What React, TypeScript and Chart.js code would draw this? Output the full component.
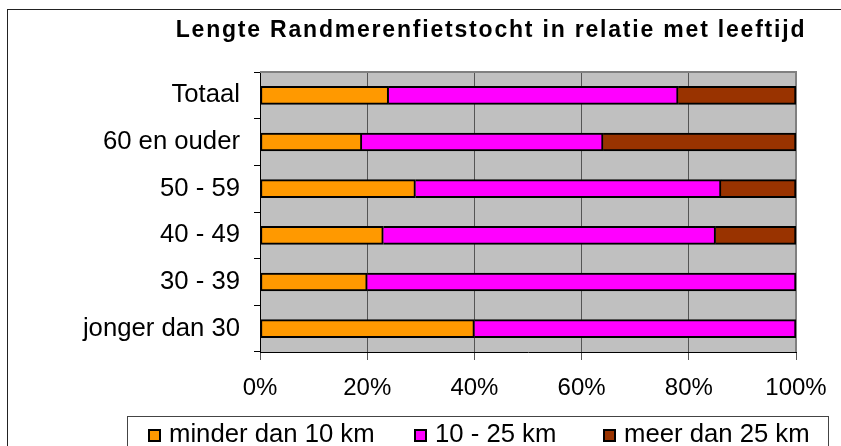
import React, { useEffect, useRef } from "react";
import { Chart, registerables } from "chart.js";

Chart.register(...registerables);

const categories = ["Totaal", "60 en ouder", "50 - 59", "40 - 49", "30 - 39", "jonger dan 30"];
const seriesNames = ["minder dan 10 km", "10 - 25 km", "meer dan 25 km"];
const minder10 = [24, 19, 29, 23, 20, 40];
const tien25 = [54, 45, 57, 62, 80, 60];
const meer25 = [22, 36, 14, 15, 0, 0];
const colors = ["#FF9900", "#FF00FF", "#993300"];
const xTicks = [0, 20, 40, 60, 80, 100];
const titleText = "Lengte Randmerenfietstocht in relatie met leeftijd";

const FONT = '"Liberation Sans", Arial, sans-serif';

const decor = {
  id: "decor",
  beforeDraw(chart: any) {
    const { ctx, chartArea: a } = chart;
    ctx.save();
    ctx.strokeStyle = "#222";
    ctx.lineWidth = 1;
    ctx.strokeRect(7.5, 9.5, 1000, 1000);
    ctx.fillStyle = "#C0C0C0";
    ctx.fillRect(a.left, a.top, a.right - a.left, a.bottom - a.top);
    ctx.restore();
  },
  beforeDatasetsDraw(chart: any) {
    const { ctx, chartArea: a } = chart;
    ctx.save();
    ctx.strokeStyle = "#808080";
    ctx.lineWidth = 2;
    ctx.beginPath();
    ctx.moveTo(a.left, a.top);
    ctx.lineTo(a.right, a.top);
    ctx.lineTo(a.right, a.bottom);
    ctx.stroke();
    ctx.restore();
  },
  afterDraw(chart: any) {
    const { ctx } = chart;
    ctx.save();
    ctx.fillStyle = "#000";
    ctx.font = `bold 23px ${FONT}`;
    (ctx as any).letterSpacing = "1.8px";
    ctx.textAlign = "center";
    ctx.textBaseline = "alphabetic";
    ctx.fillText(titleText, 491, 37);
    (ctx as any).letterSpacing = "0px";
    ctx.strokeStyle = "#444";
    ctx.lineWidth = 1;
    ctx.strokeRect(127.5, 416.5, 701, 100);
    const sq = [148, 414, 603];
    ctx.font = `25.7px ${FONT}`;
    ctx.textAlign = "left";
    seriesNames.forEach((name, i) => {
      ctx.fillStyle = colors[i];
      ctx.fillRect(sq[i], 429, 13, 13);
      ctx.strokeStyle = "#000";
      ctx.lineWidth = 2;
      ctx.strokeRect(sq[i] + 1, 430, 11, 11);
      ctx.fillStyle = "#000";
      ctx.fillText(name, sq[i] + 21, 442);
    });
    ctx.restore();
  },
};

export default function App() {
  const ref = useRef<HTMLCanvasElement>(null);
  useEffect(() => {
    if (!ref.current) return;
    const series = [minder10, tien25, meer25];
    const chart = new Chart(ref.current, {
      type: "bar",
      data: {
        labels: categories,
        datasets: series.map((d, i) => ({
          label: seriesNames[i],
          data: d,
          backgroundColor: colors[i],
          borderColor: "#000",
          borderWidth: 2,
          borderSkipped: i === 0 ? false : "start",
          barThickness: 18,
        })),
      },
      options: {
        indexAxis: "y",
        responsive: false,
        animation: false,
        layout: { padding: { left: 0, right: 45, top: 72, bottom: 0 } },
        plugins: { legend: { display: false }, title: { display: false }, tooltip: { enabled: false } },
        scales: {
          x: {
            stacked: true,
            min: 0,
            max: 100,
            afterBuildTicks: (s: any) => {
              s.ticks = xTicks.map((v) => ({ value: v }));
            },
            afterFit: (s: any) => {
              s.height = 94;
            },
            ticks: {
              callback: (v: any) => v + "%",
              color: "#000",
              font: { family: FONT, size: 24 },
              padding: 14,
              maxRotation: 0,
            },
            grid: { color: "#555", lineWidth: 1, tickLength: 8, drawTicks: true },
            border: { color: "#000", width: 1 },
          },
          y: {
            stacked: true,
            afterFit: (s: any) => {
              s.width = 260;
            },
            ticks: {
              color: "#000",
              font: { family: FONT, size: 25.7 },
              padding: 14,
            },
            grid: { drawOnChartArea: false, drawTicks: true, tickLength: 6, color: "#000", offset: true },
            border: { color: "#000", width: 1 },
          },
        },
      },
      plugins: [decor],
    });
    return () => chart.destroy();
  }, []);
  return (
    <div style={{ position: "absolute", left: 0, top: 0, width: 841, height: 446, background: "#fff" }}>
      <canvas ref={ref} width={841} height={446} style={{ display: "block" }} />
    </div>
  );
}
